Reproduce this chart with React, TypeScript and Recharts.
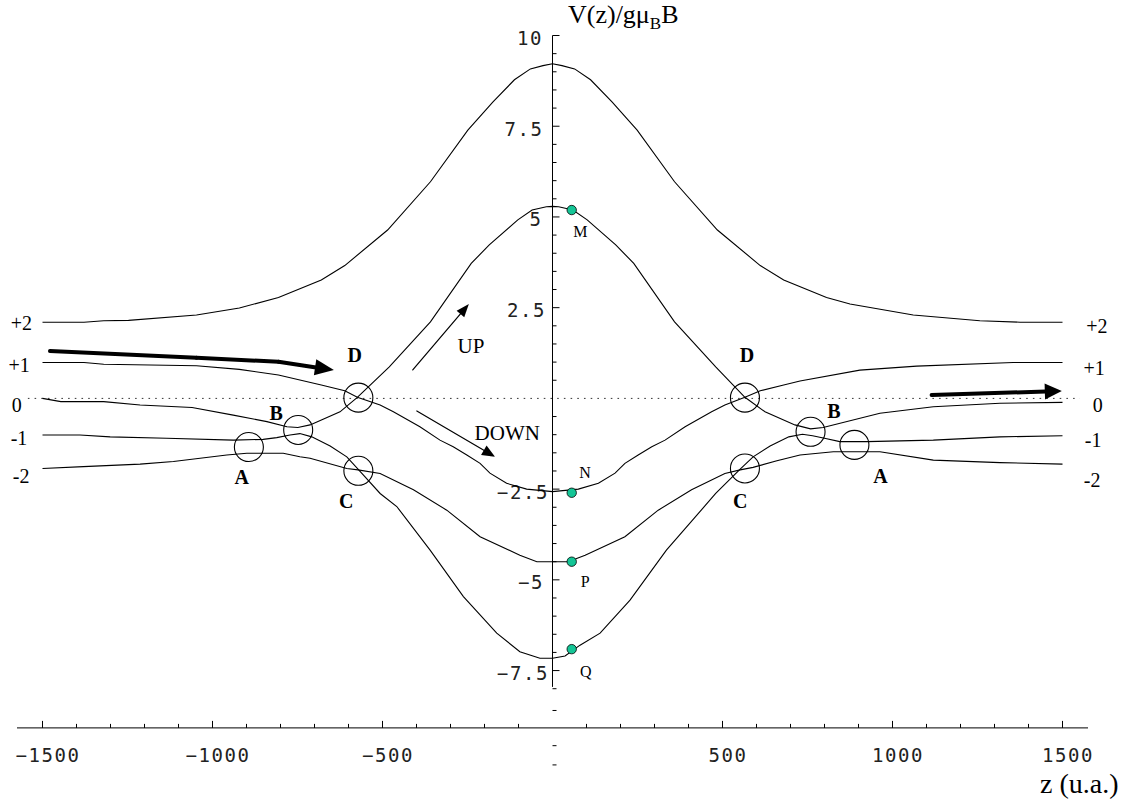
import React from 'react';
import { LineChart, Line, XAxis, YAxis, ReferenceLine, ReferenceDot } from 'recharts';

// ---------- layout ----------
const W = 1136;
const H = 805;
const X_DOMAIN: [number, number] = [-1575, 1575];
const Y_DOMAIN: [number, number] = [-9.08, 10];
const MARGIN = { top: 35.5, right: 48, bottom: 27.1, left: 17 };

// ---------- curves (z in u.a., V in units of g mu_B B) ----------
const TOP_Z = [-1500, -1378, -1320, -1247, -1047, -921, -806, -680, -611, -485, -359, -249, -175, -112, -65, -28, 0, 28, 65, 112, 175, 249, 359, 485, 611, 680, 806, 875, 1061, 1257, 1375, 1500];
const TOP_V = [2.10, 2.10, 2.14, 2.15, 2.30, 2.49, 2.78, 3.26, 3.66, 4.64, 5.97, 7.39, 8.17, 8.78, 9.08, 9.17, 9.22, 9.17, 9.08, 8.78, 8.17, 7.39, 5.97, 4.64, 3.66, 3.26, 2.78, 2.60, 2.30, 2.14, 2.10, 2.10];

const M_Z = [-1500, -1446, -1320, -1213, -1060, -939, -840, -781, -749, -713, -625, -574, -480, -359, -239, -186, -102, -60, -18, 0, 18, 60, 102, 186, 239, 359, 480, 566, 625, 713, 759, 796, 963, 1120, 1316, 1500];
const M_V = [0.00, -0.09, -0.09, -0.18, -0.25, -0.46, -0.64, -0.78, -0.80, -0.73, -0.37, 0.03, 0.87, 2.11, 3.72, 4.23, 4.92, 5.19, 5.28, 5.29, 5.28, 5.19, 4.92, 4.23, 3.72, 2.11, 0.87, 0.03, -0.37, -0.73, -0.84, -0.80, -0.41, -0.23, -0.135, -0.11];

const N_Z = [-1500, -1378, -1320, -1047, -921, -806, -680, -611, -574, -507, -468, -390, -331, -292, -252, -213, -184, -135, -76, 0, 76, 135, 184, 213, 252, 292, 331, 390, 468, 507, 566, 611, 680, 728, 904, 1071, 1355, 1500];
const N_V = [0.99, 0.99, 0.94, 0.90, 0.80, 0.645, 0.37, 0.21, 0.03, -0.18, -0.37, -0.78, -1.15, -1.33, -1.56, -1.79, -2.06, -2.34, -2.50, -2.57, -2.50, -2.34, -2.06, -1.79, -1.56, -1.33, -1.15, -0.78, -0.37, -0.18, 0.03, 0.21, 0.37, 0.48, 0.78, 0.89, 0.99, 0.99];

const P_Z = [-1500, -1380, -1213, -1115, -958, -899, -792, -743, -713, -605, -572, -507, -409, -311, -213, -96, -46, 0, 46, 96, 213, 311, 409, 507, 552, 590, 660, 728, 826, 963, 1120, 1316, 1500];
const P_V = [-1.93, -1.88, -1.81, -1.74, -1.56, -1.51, -1.51, -1.61, -1.65, -1.93, -1.97, -2.07, -2.52, -3.08, -3.81, -4.32, -4.50, -4.50, -4.50, -4.32, -3.81, -3.08, -2.52, -2.07, -1.97, -1.90, -1.72, -1.56, -1.47, -1.47, -1.70, -1.77, -1.81];

const Q_Z = [-1500, -1390, -1301, -1135, -939, -851, -811, -772, -743, -708, -654, -605, -572, -507, -458, -360, -262, -164, -96, -37, 0, 37, 81, 140, 228, 335, 440, 480, 552, 590, 640, 695, 735, 765, 800, 845, 924, 1120, 1316, 1500];
const Q_V = [-1.01, -1.01, -1.06, -1.10, -1.15, -1.13, -1.08, -1.01, -0.97, -1.06, -1.31, -1.61, -1.95, -2.62, -2.98, -4.18, -5.46, -6.47, -6.98, -7.16, -7.16, -7.10, -6.80, -6.47, -5.56, -4.18, -3.05, -2.62, -1.95, -1.61, -1.31, -1.06, -0.99, -1.03, -1.10, -1.19, -1.19, -1.15, -1.06, -1.03];

// ---------- marked points ----------
const DOT_NAMES = ['M', 'N', 'P', 'Q'];
const DOT_Z = [56.5, 56.5, 56.5, 56.5];
const DOT_V = [5.19, -2.60, -4.50, -6.91];

const CIRCLE_NAMES = ['A', 'B', 'C', 'D', 'D', 'C', 'B', 'A'];
const CIRCLE_Z = [-893, -748, -571, -571, 566, 566, 759, 888];
const CIRCLE_V = [-1.34, -0.87, -1.995, 0.02, 0.02, -1.93, -0.92, -1.28];

// ---------- ticks ----------
const X_TICKS = [-1500, -1400, -1300, -1200, -1100, -1000, -900, -800, -700, -600, -500, -400, -300, -200, -100, 100, 200, 300, 400, 500, 600, 700, 800, 900, 1000, 1100, 1200, 1300, 1400, 1500];
const X_LABELED = [-1500, -1000, -500, 500, 1000, 1500];
const Y_MAJOR = [10, 7.5, 5, 2.5, -2.5, -5, -7.5];
const Y_LABEL_DX = [-1.5, -1, -2, 1.5, 4.5, -0.5, 4.5];
const Y_MINOR = [9.5, 9, 8.5, 8, 7, 6.5, 6, 5.5, 4.5, 4, 3.5, 3, 2, 1.5, 1, 0.5, -0.5, -1, -1.5, -2, -3, -3.5, -4, -4.5, -5.5, -6, -6.5, -7, -8];
const Y_STRAY = [-8.6, -9.57, -10.1];
const Y_AXIS_RANGE = [-7.95, 10];
const ZERO_LINE_RANGE = [-1543, 1551];

// ---------- level labels at both ends ----------
const LEVEL_TEXT = ['+2', '+1', '0', '-1', '-2'];
const LEFT_LEVEL_Z = [-1562, -1569, -1576, -1569, -1563];
const LEFT_LEVEL_V = [1.885, 0.736, -0.366, -1.284, -2.339];
const RIGHT_LEVEL_Z = [1601, 1593, 1604, 1590, 1587];
const RIGHT_LEVEL_V = [1.794, 0.645, -0.366, -1.331, -2.433];

// ---------- annotations ----------
const CIRCLE_LABEL_Z = [-914, -813, -607, -582, 572, 552, 828, 965];
const CIRCLE_LABEL_V = [-2.359, -0.595, -3.02, 1.011, 1.011, -3.02, -0.54, -2.331];
const DOT_LABEL_Z = [82, 96, 96, 98];
const DOT_LABEL_V = [4.44, -2.19, -5.2, -7.68];

const THICK_LEFT_Z = [-1478, -1047, -806, -643];
const THICK_LEFT_V = [1.306, 1.12, 1.01, 0.78];
const THICK_RIGHT_Z = [1115, 1498];
const THICK_RIGHT_V = [0.094, 0.204];
const UP_ARROW_Z = [-411, -246];
const UP_ARROW_V = [0.783, 2.6];
const DOWN_ARROW_Z = [-399, -169];
const DOWN_ARROW_V = [-0.347, -1.607];

const SERIF = '"Liberation Serif", "Times New Roman", serif';
const MONO = '"DejaVu Sans Mono", monospace';
const DOT_COLOR = '#14c596';

const zip = (zs: number[], vs: number[]) => zs.map((z, i) => ({ z, v: vs[i] }));
const fmt = (v: number) => (v < 0 ? '\u2212' + String(-v) : String(v));

// ---------- shapes ----------
const arrowShape = (headLen: number, headW: number, sw: number) => (p: any) => {
  const { x1, y1, x2, y2 } = p;
  const dx = x2 - x1;
  const dy = y2 - y1;
  const L = Math.hypot(dx, dy) || 1;
  const ux = dx / L;
  const uy = dy / L;
  const bx = x2 - ux * headLen;
  const by = y2 - uy * headLen;
  const nx = -uy * headW / 2;
  const ny = ux * headW / 2;
  return (
    <g>
      <line x1={x1} y1={y1} x2={bx + ux} y2={by + uy} stroke="#000" strokeWidth={sw} strokeLinecap="round" />
      <polygon points={`${x2},${y2} ${bx + nx},${by + ny} ${bx - nx},${by - ny}`} fill="#000" />
    </g>
  );
};

const segShape = (sw: number) => (p: any) => (
  <line x1={p.x1} y1={p.y1} x2={p.x2} y2={p.y2} stroke="#000" strokeWidth={sw} strokeLinecap="round" />
);

const yTickShape = (len: number, label?: string, dx = 0) => (p: any) => (
  <g>
    <line x1={p.x1} y1={p.y1} x2={p.x1 + len} y2={p.y1} stroke="#000" strokeWidth={1} />
    {label ? (
      <text x={p.x1 - 8 + dx} y={p.y1 + 9.5} textAnchor="end" fontFamily={MONO} fontSize={19} letterSpacing={1.6} fill="#222">
        {label}
      </text>
    ) : null}
  </g>
);

const textShape = (text: string, size: number, anchor: string, weight = 'normal', family = SERIF) => (p: any) => (
  <text x={p.cx} y={p.cy} textAnchor={anchor} fontFamily={family} fontSize={size} fontWeight={weight} fill="#000">
    {text}
  </text>
);

const titleShape = (p: any) => (
  <text x={p.cx} y={p.cy} fontFamily={SERIF} fontSize={26} fill="#000">
    V(z)/gμ
    <tspan fontSize={17} dy={6}>B</tspan>
    <tspan dy={-6}>B</tspan>
  </text>
);

const XTick = (p: any) => {
  const { x, y, payload } = p;
  const v = payload.value as number;
  const major = X_LABELED.includes(v);
  return (
    <g>
      <line x1={x} y1={y} x2={x} y2={y - (major ? 7 : 4)} stroke="#000" strokeWidth={1} />
      {major ? (
        <text x={x + 5.5} y={y + 34} textAnchor="middle" fontFamily={MONO} fontSize={19} letterSpacing={1.6} fill="#222">
          {fmt(v)}
        </text>
      ) : null}
    </g>
  );
};

const CURVES = [
  zip(TOP_Z, TOP_V),
  zip(M_Z, M_V),
  zip(N_Z, N_V),
  zip(P_Z, P_V),
  zip(Q_Z, Q_V),
];

export default function App() {
  return (
    <div style={{ position: 'absolute', left: 0, top: 0, width: W, height: H, background: '#fff' }}>
      <LineChart width={W} height={H} margin={MARGIN}>
        <XAxis
          type="number"
          dataKey="z"
          domain={X_DOMAIN}
          ticks={X_TICKS}
          interval={0}
          tick={(p: any) => <XTick {...p} />}
          tickLine={false}
          tickSize={0}
          tickMargin={0}
          height={50}
          axisLine={{ stroke: '#000', strokeWidth: 1 }}
          allowDataOverflow
        />
        <YAxis type="number" dataKey="v" domain={Y_DOMAIN} hide allowDataOverflow />

        {/* dotted zero level */}
        <ReferenceLine
          segment={[{ x: ZERO_LINE_RANGE[0], y: 0 }, { x: ZERO_LINE_RANGE[1], y: 0 }]}
          stroke="#333"
          strokeWidth={1}
          strokeDasharray="1.6 5.1"
        />

        {/* vertical axis */}
        <ReferenceLine
          segment={[{ x: 0, y: Y_AXIS_RANGE[0] }, { x: 0, y: Y_AXIS_RANGE[1] }]}
          stroke="#000"
          strokeWidth={1}
        />
        {Y_MAJOR.map((v, i) => (
          <ReferenceLine key={'ym' + v} segment={[{ x: 0, y: v }, { x: 0, y: v }]} shape={yTickShape(7, fmt(v), Y_LABEL_DX[i])} />
        ))}
        {Y_MINOR.map((v) => (
          <ReferenceLine key={'yn' + v} segment={[{ x: 0, y: v }, { x: 0, y: v }]} shape={yTickShape(4)} />
        ))}
        {Y_STRAY.map((v) => (
          <ReferenceLine key={'ys' + v} ifOverflow="visible" segment={[{ x: 0, y: v }, { x: 0, y: v }]} shape={yTickShape(4)} />
        ))}

        {CURVES.map((d, i) => (
          <Line
            key={'c' + i}
            data={d}
            dataKey="v"
            type="linear"
            stroke="#000"
            strokeWidth={1.1}
            dot={false}
            activeDot={false}
            isAnimationActive={false}
          />
        ))}

        {/* thick arrows */}
        {THICK_LEFT_Z.slice(0, -2).map((z, i) => (
          <ReferenceLine
            key={'tl' + i}
            segment={[{ x: z, y: THICK_LEFT_V[i] }, { x: THICK_LEFT_Z[i + 1], y: THICK_LEFT_V[i + 1] }]}
            shape={segShape(4)}
          />
        ))}
        <ReferenceLine
          segment={[
            { x: THICK_LEFT_Z[THICK_LEFT_Z.length - 2], y: THICK_LEFT_V[THICK_LEFT_V.length - 2] },
            { x: THICK_LEFT_Z[THICK_LEFT_Z.length - 1], y: THICK_LEFT_V[THICK_LEFT_V.length - 1] },
          ]}
          shape={arrowShape(19, 16, 4)}
        />
        <ReferenceLine
          segment={[{ x: THICK_RIGHT_Z[0], y: THICK_RIGHT_V[0] }, { x: THICK_RIGHT_Z[1], y: THICK_RIGHT_V[1] }]}
          shape={arrowShape(17, 16, 4)}
        />
        <ReferenceLine
          segment={[{ x: UP_ARROW_Z[0], y: UP_ARROW_V[0] }, { x: UP_ARROW_Z[1], y: UP_ARROW_V[1] }]}
          shape={arrowShape(13, 10, 1.2)}
        />
        <ReferenceLine
          segment={[{ x: DOWN_ARROW_Z[0], y: DOWN_ARROW_V[0] }, { x: DOWN_ARROW_Z[1], y: DOWN_ARROW_V[1] }]}
          shape={arrowShape(13, 11, 1.2)}
        />

        {/* circles A B C D */}
        {CIRCLE_Z.map((z, i) => (
          <ReferenceDot key={'ci' + i} x={z} y={CIRCLE_V[i]} r={14.5} fill="none" stroke="#000" strokeWidth={1.1} />
        ))}
        {CIRCLE_NAMES.map((n, i) => (
          <ReferenceDot
            key={'cl' + i}
            x={CIRCLE_LABEL_Z[i]}
            y={CIRCLE_LABEL_V[i]}
            r={1}
            shape={textShape(n, 20, 'middle', 'bold')}
          />
        ))}

        {/* M N P Q points */}
        {DOT_Z.map((z, i) => (
          <ReferenceDot key={'d' + i} x={z} y={DOT_V[i]} r={4.7} fill={DOT_COLOR} stroke="#000" strokeWidth={0.8} />
        ))}
        {DOT_NAMES.map((n, i) => (
          <ReferenceDot key={'dl' + i} x={DOT_LABEL_Z[i]} y={DOT_LABEL_V[i]} r={1} shape={textShape(n, 16, 'middle')} />
        ))}

        {/* level labels */}
        {LEVEL_TEXT.map((t, i) => (
          <ReferenceDot key={'ll' + i} ifOverflow="visible" x={LEFT_LEVEL_Z[i]} y={LEFT_LEVEL_V[i]} r={1} shape={textShape(t, 20, 'middle')} />
        ))}
        {LEVEL_TEXT.map((t, i) => (
          <ReferenceDot key={'rl' + i} ifOverflow="visible" x={RIGHT_LEVEL_Z[i]} y={RIGHT_LEVEL_V[i]} r={1} shape={textShape(t, 20, 'middle')} />
        ))}

        {/* UP / DOWN */}
        <ReferenceDot x={-240} y={1.243} r={1} shape={textShape('UP', 21, 'middle')} />
        <ReferenceDot x={-133} y={-1.146} r={1} shape={textShape('DOWN', 21, 'middle')} />

        {/* axis titles */}
        <ReferenceDot ifOverflow="visible" x={45.6} y={10.353} r={1} shape={titleShape} />
        <ReferenceDot ifOverflow="visible" x={1434} y={-10.873} r={1} shape={textShape('z (u.a.)', 28, 'start')} />
      </LineChart>
    </div>
  );
}
